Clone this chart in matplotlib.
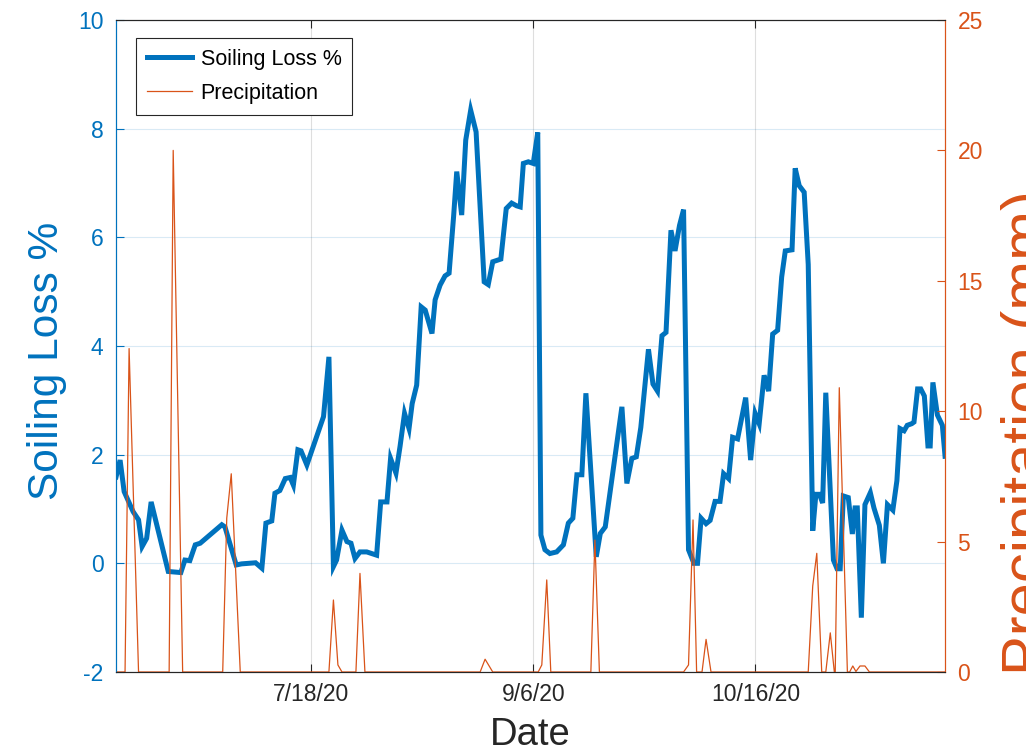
import matplotlib
matplotlib.use('Agg')
import matplotlib.pyplot as plt

plt.rcParams['font.family'] = ['Liberation Sans', 'DejaVu Sans']
plt.rcParams['axes.unicode_minus'] = False

# soiling loss, read at the line's vertices (x in days from start of plot)
soil_day = [0.0, 0.9, 1.8, 3.8, 5.0, 5.8, 6.8, 7.8, 11.6, 14.4, 15.3, 16.4, 17.6, 18.7,
            23.5, 24.2, 26.7, 27.9, 31.0, 32.4, 33.3, 34.6, 35.3, 36.4, 37.6, 38.7, 39.4,
            40.4, 41.1, 42.4, 46.1, 47.3, 48.3, 49.0, 50.2, 51.3, 52.2, 53.1, 54.2, 55.7,
            57.9, 58.8, 60.2, 61.0, 62.2, 63.1, 64.1, 65.1, 65.8, 66.8, 67.8, 68.7, 70.2,
            70.9, 72.0, 73.1, 74.0, 75.0, 75.7, 76.8, 77.7, 78.8, 80.0, 81.8, 82.7, 83.7,
            85.5, 86.7, 87.9, 89.0, 89.8, 90.5, 91.6, 92.7, 93.7, 94.4, 95.3, 96.4, 97.9,
            99.4, 100.5, 101.5, 102.4, 103.5, 104.4, 106.7, 107.6, 108.7, 112.4, 113.5,
            114.6, 115.6, 116.6, 118.3, 119.3, 120.3, 121.3, 122.2, 123.3, 124.2, 125.2,
            126.1, 127.2, 128.4, 129.2, 130.0, 131.1, 132.0, 133.1, 134.2, 135.0, 136.1,
            137.0, 138.1, 139.9, 141.0, 142.0, 142.9, 144.0, 145.0, 145.9, 147.0, 147.9,
            148.7, 150.2, 150.9, 151.8, 152.9, 153.8, 154.8, 155.5, 156.3, 157.0, 157.7,
            159.4, 160.2, 160.9, 161.6, 162.7, 163.6, 164.2, 164.7, 165.6, 166.4, 167.6,
            168.4, 169.6, 170.5, 171.4, 172.6, 173.5, 174.2, 175.1, 175.8, 176.8, 177.3,
            178.1, 178.8, 179.6, 180.4, 180.9, 181.5, 182.5, 183.6, 184.2]
soil_pct = [1.59, 1.90, 1.32, 0.95, 0.80, 0.31, 0.46, 1.13, -0.15, -0.17, 0.06, 0.05, 0.34, 0.37,
            0.71, 0.67, -0.03, -0.01, 0.01, -0.09, 0.74, 0.78, 1.29, 1.34, 1.56, 1.58, 1.44,
            2.09, 2.07, 1.81, 2.70, 3.80, -0.06, 0.06, 0.61, 0.40, 0.37, 0.09, 0.21, 0.21,
            0.15, 1.13, 1.13, 1.93, 1.66, 2.15, 2.76, 2.48, 2.94, 3.28, 4.72, 4.66, 4.23,
            4.85, 5.12, 5.29, 5.34, 6.38, 7.21, 6.41, 7.79, 8.34, 7.94, 5.18, 5.13, 5.55,
            5.60, 6.53, 6.63, 6.58, 6.56, 7.36, 7.39, 7.36, 7.93, 0.52, 0.25, 0.18, 0.21,
            0.34, 0.74, 0.83, 1.63, 1.63, 3.13, 0.12, 0.55, 0.67, 2.88, 1.47,
            1.93, 1.96, 2.50, 3.94, 3.30, 3.17, 4.19, 4.25, 6.13, 5.75, 6.22,
            6.51, 0.25, 0.0, 0.0, 0.83, 0.73, 0.79, 1.14, 1.14, 1.65, 1.56,
            2.32, 2.29, 3.05, 1.90, 2.76, 2.57, 3.46, 3.17, 4.22, 4.29, 5.27,
            5.75, 5.77, 7.27, 6.95, 6.83, 5.50, 0.60, 1.27, 1.27, 1.11, 3.14,
            0.06, -0.10, -0.10, 1.24, 1.21, 0.54, 1.02, 1.02, -1.0, 1.08, 1.30,
            1.02, 0.70, 0.0, 1.08, 0.98, 1.52, 2.48, 2.44, 2.54, 2.57, 2.60,
            3.21, 3.21, 3.08, 2.16, 2.16, 3.33, 2.73, 2.54, 1.97]

# precipitation (mm), vertices of the thin line
rain_day = [0.0, 2.0, 2.9, 5.0, 11.8, 12.7, 14.8, 23.7, 24.6, 25.6, 27.6, 47.3, 48.3, 49.3,
            50.2, 53.3, 54.2, 55.3, 80.9, 82.0, 83.7, 93.8, 94.6, 95.7, 96.6, 105.5, 106.4,
            107.4, 126.1, 127.2, 128.2, 129.0, 130.2, 131.1, 132.2, 153.8, 154.8, 155.7,
            156.8, 157.7, 158.7, 159.6, 159.8, 160.7, 162.5, 163.0, 163.7, 164.4, 165.3,
            166.4, 167.4, 184.2]
rain_mm = [0, 0, 12.4, 0, 0, 20.0, 0, 0, 5.9, 7.6, 0, 0, 2.76, 0.27,
           0, 0, 3.78, 0, 0, 0.49, 0, 0, 0.27, 3.53, 0, 0, 5.06,
           0, 0, 0.27, 5.83, 0, 0, 1.25, 0, 0, 3.3, 4.55,
           0, 0, 1.5, 0, 0, 10.9, 0, 0, 0.23, 0.02, 0.23,
           0.23, 0, 0]

tick_pos = [43.27, 92.73, 142.07]
tick_lbl = ['7/18/20', '9/6/20', '10/16/20']

blue = '#0072BD'
orange = '#D95319'
dark = '#262626'

fig = plt.figure(figsize=(10.26, 7.52), dpi=100)
ax = fig.add_axes([0.1131, 0.1064, 0.808, 0.867])
ax2 = ax.twinx()

l1, = ax.plot(soil_day, soil_pct, color=blue, lw=3.6, solid_joinstyle='miter', label='Soiling Loss %')
l2, = ax2.plot(rain_day, rain_mm, color=orange, lw=0.9, label='Precipitation')

ax.set_xlim(0, 184.2)
ax.set_ylim(-2, 10)
ax.set_yticks(range(-2, 11, 2))
ax2.set_ylim(0, 25)
ax2.set_yticks(range(0, 26, 5))
ax.set_xticks(tick_pos)
ax.set_xticklabels(tick_lbl)

# grid: y lines tinted like the left axis, x lines gray
ax.grid(axis='y', color=blue, alpha=0.15, lw=0.8)
ax.grid(axis='x', color=dark, alpha=0.15, lw=0.8)

ax.tick_params(axis='x', direction='in', top=True, length=6, width=0.8, colors=dark,
               labelsize=16.5, pad=8)
ax.tick_params(axis='y', direction='in', length=6, width=0.8, colors=blue, labelsize=16.5, pad=9)
ax2.tick_params(axis='y', direction='in', length=6, width=0.8, colors=orange, labelsize=16.5, pad=9)

for a in (ax, ax2):
    a.spines['top'].set_color(dark)
    a.spines['bottom'].set_color(dark)
    a.spines['left'].set_color(blue)
    a.spines['right'].set_color(orange)
    for s in a.spines.values():
        s.set_linewidth(0.8)

ax.set_xlabel('Date', fontsize=27.5, color=dark, labelpad=8)
ax.set_ylabel('Soiling Loss %', fontsize=30.5, color=blue)
ax.yaxis.set_label_coords(-0.059, 0.477)
ax2.set_ylabel('Precipitation (mm)', fontsize=43, color=orange)
ax2.yaxis.set_label_coords(1.068, 0.367)

leg = ax2.legend(handles=[l1, l2], loc='upper left', bbox_to_anchor=(0.024, 0.972),
                 borderaxespad=0, fancybox=False, fontsize=15.5, handlelength=2.1,
                 handletextpad=0.4, borderpad=0.5, labelspacing=0.6)
leg.get_frame().set_edgecolor(dark)
leg.get_frame().set_linewidth(0.8)
leg.get_frame().set_alpha(1)

fig.savefig('out.png', dpi=100)
